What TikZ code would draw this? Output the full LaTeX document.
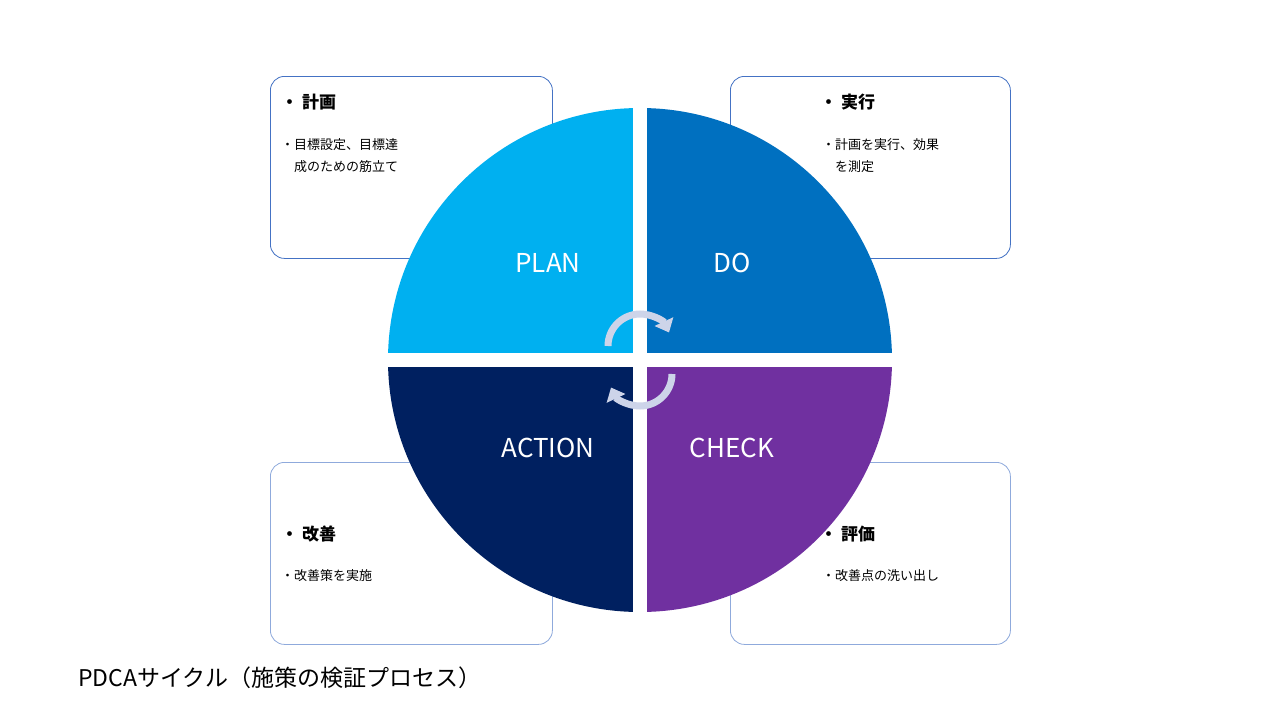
\documentclass[tikz,border=0pt]{standalone}
\usepackage{fontspec}
\setmainfont{Noto Sans CJK JP}
\usetikzlibrary{arrows.meta}
\definecolor{cplan}{HTML}{00B0F0}
\definecolor{cdo}{HTML}{0070C0}
\definecolor{cact}{HTML}{002060}
\definecolor{cchk}{HTML}{7030A0}
\definecolor{carr}{HTML}{CDD4E9}
\definecolor{bdtop}{HTML}{4472C4}
\definecolor{bdbot}{HTML}{8FAADC}
\tikzset{
 box/.style={draw=#1,line width=0.8pt,rounded corners=14pt,fill=white},
 head/.style={anchor=north west,font=\fontsize{17}{20}\selectfont\bfseries,inner sep=0},
 item/.style={anchor=north west,font=\fontsize{13}{22}\selectfont,inner sep=0,align=left},
 qlabel/.style={text=white,font=\fontsize{26}{30}\selectfont},
 cyc/.style={draw=carr,line width=7pt,-{Triangle[width=20pt,length=12pt]}}
}
\begin{document}
\begin{tikzpicture}[x=1pt,y=-1pt]
\useasboundingbox (0,0) rectangle (1280,720);
\fill[white] (0,0) rectangle (1280,720);
\node[box=bdtop,minimum width=282pt,minimum height=182pt,anchor=north west] (b1) at (270,76) {};
\node[box=bdtop,minimum width=280pt,minimum height=182pt,anchor=north west] (b2) at (730,76) {};
\node[box=bdbot,minimum width=282pt,minimum height=182pt,anchor=north west] (b3) at (270,462) {};
\node[box=bdbot,minimum width=280pt,minimum height=182pt,anchor=north west] (b4) at (730,462) {};
\begin{scope}
\clip (640,360) circle (252);
\fill[cplan] (380,100) rectangle (633,353);
\fill[cdo] (647,100) rectangle (900,353);
\fill[cact] (380,367) rectangle (633,620);
\fill[cchk] (647,367) rectangle (900,620);
\end{scope}
\node[head] (h1) at (281,94) {・ 計画};
\node[item] (t1) at (281,138) {・目標設定、目標達\\\hspace{13pt}成のための筋立て};
\node[head] (h2) at (820,94) {・ 実行};
\node[item] (t2) at (822,138) {・計画を実行、効果\\\hspace{13pt}を測定};
\node[head] (h3) at (281,526) {・ 改善};
\node[item] (t3) at (281,569) {・改善策を実施};
\node[head] (h4) at (820,526) {・ 評価};
\node[item] (t4) at (822,569) {・改善点の洗い出し};
\node[qlabel] (l1) at (548,263) {PLAN};
\node[qlabel] (l2) at (732,263) {DO};
\node[qlabel] (l3) at (548,448) {ACTION};
\node[qlabel] (l4) at (732,448) {CHECK};
\coordinate (c1) at (640,346);
\coordinate (c2) at (640,374);
\draw[cyc] ([xshift=-32pt]c1) arc[start angle=180,end angle=335,radius=32];
\draw[cyc] ([xshift=32pt]c2) arc[start angle=0,end angle=155,radius=32];
\node[anchor=west,font=\fontsize{23}{28}\selectfont,inner sep=0] (title) at (78,678) {PDCAサイクル（施策の検証プロセス）};
\end{tikzpicture}
\end{document}
